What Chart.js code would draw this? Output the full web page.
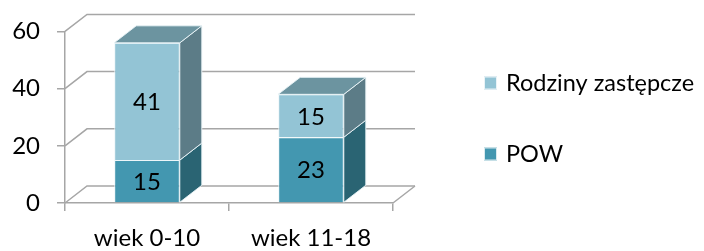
<!DOCTYPE html>
<html>
<head>
<meta charset="utf-8">
<script src="https://cdn.jsdelivr.net/npm/chart.js@4.4.0/dist/chart.umd.min.js"></script>
<style>
  html, body { margin: 0; padding: 0; background: #fff; }
  #wrap { width: 704px; height: 251px; position: relative; }
</style>
</head>
<body>
<div id="wrap"><canvas id="c"></canvas></div>
<script>
  const categories = ["wiek 0-10", "wiek 11-18"];
  const powValues = [15, 23];
  const rodzinyValues = [41, 15];
  const yTicks = [0, 20, 40, 60];

  const seriesNames = { pow: "POW", rodziny: "Rodziny zastępcze" };

  const colors = {
    powFront: "#4397B0",
    powSide: "#2A6473",
    powTop: "#3A8298",
    rodzFront: "#93C4D5",
    rodzSide: "#5C7C87",
    rodzTop: "#6C94A0",
    edge: "rgba(235,245,248,0.9)",
    grid: "#A6A6A6",
  };

  // depth of the fake 3d box
  const DX = 22;
  const DY = -17;
  const FONT = "Lato, 'Open Sans', sans-serif";

  function poly(ctx, pts, fill, stroke) {
    ctx.beginPath();
    ctx.moveTo(pts[0][0], pts[0][1]);
    for (let i = 1; i < pts.length; i++) ctx.lineTo(pts[i][0], pts[i][1]);
    ctx.closePath();
    ctx.fillStyle = fill;
    ctx.fill();
    if (stroke) {
      ctx.strokeStyle = stroke;
      ctx.lineWidth = 1;
      ctx.stroke();
    }
  }

  const wallPlugin = {
    id: "wall3d",
    beforeDatasetsDraw(chart) {
      const { ctx, chartArea } = chart;
      const y = chart.scales.y;
      ctx.save();
      ctx.strokeStyle = colors.grid;
      ctx.lineWidth = 1.5;
      yTicks.forEach((v) => {
        const py = y.getPixelForValue(v);
        ctx.beginPath();
        ctx.moveTo(chartArea.left, py);
        ctx.lineTo(chartArea.left + DX, py + DY);
        ctx.lineTo(chartArea.right + DX, py + DY);
        ctx.stroke();
      });
      // right edge of the floor
      const py0 = y.getPixelForValue(0);
      ctx.beginPath();
      ctx.moveTo(chartArea.right, py0);
      ctx.lineTo(chartArea.right + DX, py0 + DY);
      ctx.stroke();
      ctx.restore();
    },
    afterDatasetsDraw(chart) {
      const { ctx } = chart;
      const last = chart.data.datasets.length - 1;
      ctx.save();
      chart.data.datasets.forEach((ds, di) => {
        const meta = chart.getDatasetMeta(di);
        meta.data.forEach((bar) => {
          const p = bar.getProps(["x", "y", "base", "width"], true);
          const L = p.x - p.width / 2;
          const R = p.x + p.width / 2;
          poly(ctx, [[R, p.y], [R + DX, p.y + DY], [R + DX, p.base + DY], [R, p.base]], ds.sideColor, colors.edge);
          if (di === last) {
            poly(ctx, [[L, p.y], [R, p.y], [R + DX, p.y + DY], [L + DX, p.y + DY]], ds.topColor, colors.edge);
          }
        });
      });
      // value labels
      ctx.fillStyle = "#000";
      ctx.font = "24px " + FONT;
      ctx.textAlign = "center";
      ctx.textBaseline = "middle";
      chart.data.datasets.forEach((ds, di) => {
        const meta = chart.getDatasetMeta(di);
        meta.data.forEach((bar, i) => {
          const p = bar.getProps(["x", "y", "base"], true);
          ctx.fillText(String(ds.data[i]), p.x, (p.y + p.base) / 2 + 1);
        });
      });
      ctx.restore();
    },
    afterDraw(chart) {
      // legend, top series first like in the original
      const { ctx } = chart;
      const items = chart.data.datasets.slice().reverse();
      const lx = 484;
      const rows = [83, 154];
      ctx.save();
      ctx.font = "23.5px " + FONT;
      ctx.textAlign = "left";
      ctx.textBaseline = "middle";
      items.forEach((ds, i) => {
        const cy = rows[i];
        ctx.fillStyle = ds.backgroundColor;
        ctx.fillRect(lx, cy - 6.5, 13, 13);
        ctx.strokeStyle = "rgba(255,255,255,0.8)";
        ctx.lineWidth = 1;
        ctx.strokeRect(lx + 0.5, cy - 6, 12, 12);
        ctx.fillStyle = "#000";
        ctx.fillText(ds.label, lx + 22, cy);
      });
      ctx.restore();
    },
  };

  new Chart(document.getElementById("c"), {
    type: "bar",
    data: {
      labels: categories,
      datasets: [
        {
          label: seriesNames.pow,
          data: powValues,
          backgroundColor: colors.powFront,
          sideColor: colors.powSide,
          topColor: colors.powTop,
          borderColor: colors.edge,
          borderWidth: 1,
        },
        {
          label: seriesNames.rodziny,
          data: rodzinyValues,
          backgroundColor: colors.rodzFront,
          sideColor: colors.rodzSide,
          topColor: colors.rodzTop,
          borderColor: colors.edge,
          borderWidth: 1,
        },
      ],
    },
    plugins: [wallPlugin],
    options: {
      responsive: true,
      maintainAspectRatio: false,
      animation: false,
      barPercentage: 0.4,
      categoryPercentage: 1,
      layout: { padding: { top: 29, right: 311, left: 0, bottom: 0 } },
      plugins: {
        legend: { display: false },
        tooltip: { enabled: false },
      },
      scales: {
        x: {
          stacked: true,
          afterFit: (s) => { s.height = 48; },
          grid: {
            offset: true,
            drawOnChartArea: false,
            tickLength: 8,
            color: colors.grid,
            lineWidth: 1.5,
          },
          border: { display: true, color: colors.grid, width: 1.5 },
          ticks: {
            color: "#000",
            padding: 13,
            font: { family: FONT, size: 24 },
          },
        },
        y: {
          stacked: true,
          min: 0,
          max: 60,
          afterFit: (s) => { s.width = 65; },
          afterBuildTicks: (s) => { s.ticks = yTicks.map((v) => ({ value: v })); },
          grid: {
            drawOnChartArea: false,
            tickLength: 8,
            color: colors.grid,
            lineWidth: 1.5,
          },
          border: { display: true, color: colors.grid, width: 1.5 },
          ticks: {
            color: "#000",
            padding: 17,
            font: { family: FONT, size: 24 },
          },
        },
      },
    },
  });
</script>
</body>
</html>
